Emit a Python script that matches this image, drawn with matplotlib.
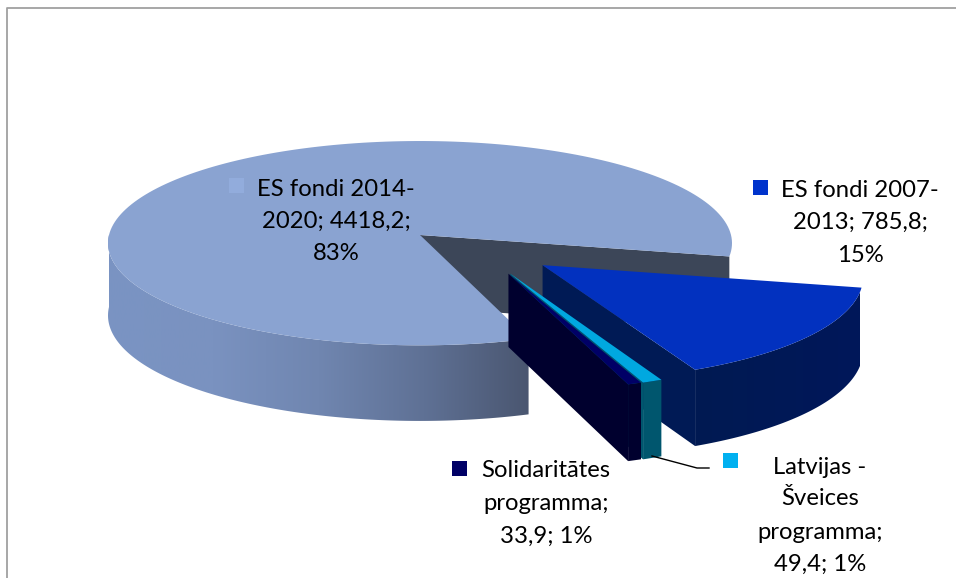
import numpy as np
import matplotlib
matplotlib.use('Agg')
import matplotlib.pyplot as plt
from matplotlib.colors import LinearSegmentedColormap
from matplotlib.patches import Polygon, Rectangle

plt.rcParams['font.family'] = ['Lato', 'DejaVu Sans']

# slice values, clockwise from the right edge of the big slice
names = ['ES fondi 2014-2020', 'ES fondi 2007-2013', 'Latvijas - Šveices programma', 'Solidaritātes programma']
values = [4418.2, 785.8, 49.4, 33.9]
percents = ['83%', '15%', '1%', '1%']

# pixel geometry of the pie (the axes run in image pixels)
CX, CY = 420, 235
RX, RY = 311, 101.5
PERSP = 0.08  # front of the pie looks bigger than the back
DEPTH = 72
START = 12  # degrees, screen angle where the blue slice starts
OFFSETS = [(0, 0), (0.385, 0.29), (0.282, 0.37), (0.276, 0.37)]


def project(u, v):
    k = 1 - PERSP * v
    return CX + RX * u / k, CY + RY * v / k


def depth(v):
    return DEPTH * (1 + 0.05 * v)


def arc(a0, a1, off):
    t = np.radians(np.linspace(a0, a1, 200))
    v = np.sin(t) + off[1]
    x, y = project(np.cos(t) + off[0], v)
    return x, y, depth(v)


def top_face(a0, a1, off):
    x, y, d = arc(a0, a1, off)
    ax0, ay0 = project(off[0], off[1])
    return np.column_stack([np.r_[ax0, x], np.r_[ay0, y]])


def side_face(a0, a1, off):
    x, y, d = arc(a0, a1, off)
    return np.column_stack([np.r_[x, x[::-1]], np.r_[y, (y + d)[::-1]]])


def wall(a, off):
    x, y, d = arc(a, a, off)
    ax0, ay0 = project(off[0], off[1])
    return [(ax0, ay0), (x[0], y[0]), (x[0], y[0] + d[0]), (ax0, ay0 + depth(off[1]))]


def gradient_side(ax, poly, colors, x0, x1, z):
    cmap = LinearSegmentedColormap.from_list('side', colors)
    im = ax.imshow(np.linspace(0, 1, 256)[None, :], cmap=cmap, aspect='auto',
                   extent=(x0, x1, 578, 0), zorder=z)
    patch = Polygon(poly, closed=True, transform=ax.transData, fc='none', ec='none')
    ax.add_patch(patch)
    im.set_clip_path(patch)


fig = plt.figure(figsize=(9.56, 5.78), dpi=100)
ax = fig.add_axes([0, 0, 1, 1])

# sweep of each slice in degrees
sweeps = [360 * val / sum(values) for val in values]
a_blue0 = START
a_blue1 = a_blue0 + sweeps[1]
a_lat1 = a_blue1 + sweeps[2]
a_sol1 = a_lat1 + sweeps[3]
a_main0 = a_sol1
a_main1 = a_main0 + sweeps[0]

# chart frame
ax.plot([7.5, 7.5, 956], [578, 7.5, 7.5], color='#a0a0a0', lw=1.3, zorder=1)

# big slice
off = OFFSETS[0]
ax.add_patch(Polygon(wall(START, off), fc='#3c4658', ec='none', zorder=2))
gradient_side(ax, side_face(a_main0, 180, off),
              ['#7a94c3', '#7a92c0', '#7086b0', '#5f7195', '#4a5670'], 108, 530, 3)
ax.add_patch(Polygon(top_face(a_main0, a_main1, off), fc='#8aa3d1', ec='none', zorder=4))

# blue slice
off = OFFSETS[1]
ax.add_patch(Polygon(wall(a_blue1, off), fc='#001a55', ec='none', zorder=5))
gradient_side(ax, side_face(a_blue0, a_blue1, off), ['#001a52', '#00175a'], 690, 860, 5.5)
ax.add_patch(Polygon(top_face(a_blue0, a_blue1, off), fc='#0231bf', ec='none', zorder=6))

# Latvijas - Šveices slice
off = OFFSETS[2]
ax.add_patch(Polygon(wall(a_lat1, off), fc='#00566e', ec='none', zorder=7))
ax.add_patch(Polygon(side_face(a_blue1, a_lat1, off), fc='#00566e', ec='none', zorder=7.5))
ax.add_patch(Polygon(top_face(a_blue1, a_lat1, off), fc='#00a8e0', ec='none', zorder=8))

# Solidaritātes slice
off = OFFSETS[3]
ax.add_patch(Polygon(wall(a_sol1, off), fc='#00002e', ec='none', zorder=9))
ax.add_patch(Polygon(side_face(a_lat1, a_sol1, off), fc='#00002e', ec='none', zorder=9.5))
ax.add_patch(Polygon(top_face(a_lat1, a_sol1, off), fc='#000066', ec='none', zorder=10))

# leader line of the Latvia label
ax.plot([652, 697, 709], [456, 468, 468], color='black', lw=1, zorder=11)


def label(lines, cx, ys, key_x, key_y, color):
    ax.add_patch(Rectangle((key_x, key_y), 15, 15, fc=color, ec='none', zorder=12))
    for line, y in zip(lines, ys):
        ax.text(cx, y + 1.5, line, ha='center', va='center', fontsize=17.2, color='black', zorder=12)


label(['ES fondi 2014-', '2020; 4418,2;', percents[0]], 336, [188, 220, 252], 229, 178, '#92acdc')
label(['ES fondi 2007-', '2013; 785,8;', percents[1]], 860, [189, 221, 254], 753, 180, '#0033cc')
label(['Latvijas -', 'Šveices', 'programma;', '49,4; ' + percents[2]], 820, [466, 497, 531, 563], 723, 453, '#00b0f0')
label(['Solidaritātes', 'programma;', '33,9; ' + percents[3]], 546, [469, 502, 535], 452, 461, '#000066')

ax.set_xlim(0, 956)
ax.set_ylim(578, 0)
ax.axis('off')

fig.savefig('out.png', dpi=100)
